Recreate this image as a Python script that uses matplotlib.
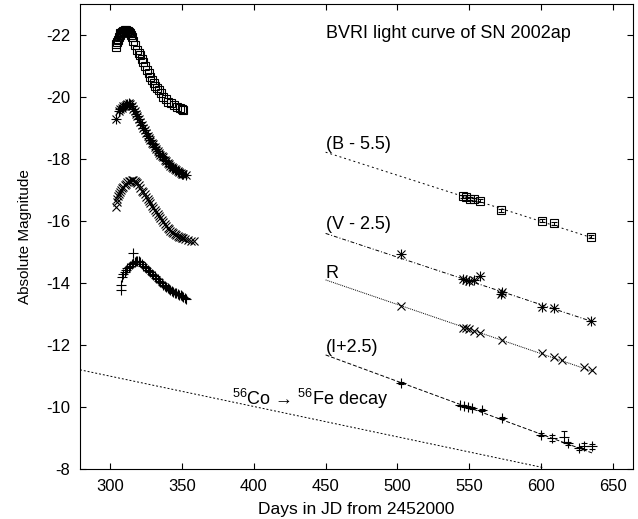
import numpy as np
import matplotlib
matplotlib.use("Agg")
import matplotlib.pyplot as plt

plt.rcParams['font.family'] = ['Liberation Sans', 'DejaVu Sans']
plt.rcParams['mathtext.fontset'] = 'custom'
plt.rcParams['mathtext.rm'] = 'Liberation Sans'
plt.rcParams['mathtext.it'] = 'Liberation Sans'
plt.rcParams['axes.unicode_minus'] = False

# early light curves (days from JD 2452000, absolute magnitude incl. offsets)
b_day = [304.2, 304.4, 304.8, 305.3, 306.0, 306.5, 307.0, 307.6, 308.2, 309.0, 309.7,
         310.4, 311.0, 311.7, 312.3, 313.0, 313.9, 314.5, 315.1, 316.0, 317.4, 318.6,
         319.8, 320.9, 322.0, 323.2, 324.3, 325.5, 326.7, 327.9, 329.0, 330.2, 331.5,
         332.5, 333.7, 335.4, 337.1, 338.8, 340.6, 342.3, 344.1, 346.4, 348.7, 350.0, 351.0]
b_mag = [-21.60, -21.70, -21.78, -21.85, -21.95, -22.00, -22.05, -22.08, -22.10, -22.12, -22.13,
         -22.15, -22.15, -22.14, -22.13, -22.10, -22.05, -22.00, -21.92, -21.80, -21.68, -21.52,
         -21.43, -21.35, -21.24, -21.14, -21.00, -20.87, -20.77, -20.66, -20.55, -20.44, -20.36,
         -20.30, -20.23, -20.12, -20.01, -19.93, -19.85, -19.80, -19.74, -19.68, -19.64, -19.60, -19.58]

v_day = [303.8, 306, 307, 308, 309, 310, 311, 312, 313, 314, 315, 316, 317, 318, 319, 320,
         321, 322, 323, 324, 325, 326, 327, 328, 329, 330, 331, 332, 333, 334, 335, 336,
         337, 338, 339, 340, 341, 342, 343, 344, 345, 346, 347, 348, 349, 350, 351, 353]
v_mag = [-19.30, -19.55, -19.60, -19.65, -19.70, -19.72, -19.75, -19.78, -19.80, -19.78, -19.72,
         -19.62, -19.55, -19.45, -19.38, -19.28, -19.18, -19.10, -19.00, -18.92, -18.83, -18.75,
         -18.68, -18.60, -18.53, -18.47, -18.40, -18.33, -18.27, -18.20, -18.14, -18.09, -18.05,
         -17.98, -17.93, -17.87, -17.83, -17.78, -17.74, -17.72, -17.67, -17.63, -17.60, -17.57,
         -17.55, -17.53, -17.52, -17.50]

r_day = [304.3, 304.6, 305.0, 305.5, 306.0, 306.7, 307.4, 308, 309, 310, 311, 312, 313, 314,
         315, 316, 317, 318, 319, 320, 321, 322, 323, 324, 325, 326, 327, 328, 329, 330, 331,
         332, 333, 334, 335, 336, 337, 338, 339, 340, 341, 342, 343, 344, 345, 346, 347, 348,
         349, 350, 351, 352, 354, 356, 358.5]
r_mag = [-16.45, -16.60, -16.70, -16.80, -16.88, -16.95, -17.00, -17.05, -17.10, -17.15, -17.20,
         -17.25, -17.28, -17.30, -17.32, -17.32, -17.30, -17.27, -17.22, -17.15, -17.05, -16.98,
         -16.92, -16.86, -16.79, -16.72, -16.64, -16.57, -16.50, -16.43, -16.36, -16.29, -16.22,
         -16.16, -16.10, -16.03, -15.96, -15.90, -15.84, -15.78, -15.73, -15.69, -15.64, -15.60,
         -15.57, -15.54, -15.51, -15.49, -15.47, -15.45, -15.44, -15.42, -15.39, -15.36, -15.34]

i_day = [307.3, 307.4, 308, 309, 310, 311, 312, 313, 314, 315, 315.8, 316, 317, 318, 319, 320,
         321, 322, 323, 324, 325, 326, 327, 328, 329, 330, 331, 332, 333, 334, 335, 336, 337,
         338, 339, 340, 341, 342, 343, 344, 345, 346, 347, 348, 349, 350, 351, 352, 353]
i_mag = [-13.77, -13.94, -14.20, -14.30, -14.37, -14.43, -14.48, -14.52, -14.56, -14.60, -14.96,
         -14.64, -14.68, -14.70, -14.71, -14.70, -14.68, -14.62, -14.56, -14.51, -14.47, -14.43,
         -14.39, -14.35, -14.30, -14.26, -14.21, -14.17, -14.12, -14.08, -14.03, -13.99, -13.94,
         -13.90, -13.87, -13.84, -13.81, -13.78, -13.75, -13.72, -13.69, -13.67, -13.64, -13.62,
         -13.60, -13.58, -13.56, -13.53, -13.50]

# nebular phase points
bl_day = [545.5, 547.5, 550.5, 553.5, 557.5, 572.0, 600.6, 608.7, 634.5]
bl_mag = [-16.80, -16.78, -16.72, -16.70, -16.66, -16.35, -16.01, -15.93, -15.49]
vl_day = [502.5, 545.5, 547.5, 550.0, 553.0, 557.7, 572.0, 572.8, 600.6, 608.7, 634.5]
vl_mag = [-14.95, -14.12, -14.10, -14.08, -14.10, -14.24, -13.65, -13.72, -13.22, -13.18, -12.78]
rl_day = [502.5, 545.5, 547.5, 550.0, 553.0, 557.7, 572.8, 600.6, 608.7, 614.5, 629.6, 635.4]
rl_mag = [-13.25, -12.55, -12.55, -12.52, -12.45, -12.40, -12.16, -11.73, -11.62, -11.52, -11.28, -11.19]
il_day = [502.4, 543.7, 546.0, 549.0, 551.9, 558.8, 572.8, 600.2, 607.6, 615.7, 618.5, 626.2, 629.7, 635.5]
il_mag = [-10.78, -10.05, -10.03, -10.01, -9.98, -9.90, -9.64, -9.10, -8.99, -9.04, -8.83, -8.67, -8.74, -8.74]
il_err = [0.03, 0.03, 0.03, 0.03, 0.03, 0.03, 0.04, 0.05, 0.10, 0.18, 0.05, 0.05, 0.10, 0.08]

# linear fits (start/end day, start/end mag)
fit_day = [450, 636]
fit_b = [-18.22, -15.45]
fit_v = [-15.60, -12.75]
fit_r = [-14.10, -11.15]
fit_i = [-11.68, -8.51]
co_day = [279, 601]
co_mag = [-11.20, -8.05]

fig = plt.figure(figsize=(6.38, 5.19), dpi=100)
ax = fig.add_axes([80 / 638, 1 - 469 / 519, 553 / 638, 465 / 519])

ms = 6
kw = dict(linestyle='none', color='black', mew=0.8)
ax.plot(b_day, b_mag, marker='s', mfc='none', ms=ms - 0.5, **kw)
ax.plot(v_day, v_mag, marker='+', ms=ms + 1, **kw)
ax.plot(v_day, v_mag, marker='x', ms=ms, **kw)
ax.plot(r_day, r_mag, marker='x', ms=ms, **kw)
ax.plot(i_day, i_mag, marker='+', ms=ms + 1, **kw)

ax.errorbar(bl_day, bl_mag, yerr=0.05, fmt='s', mfc='none', mec='black', ecolor='black',
            ms=ms, mew=0.8, elinewidth=0.7, capsize=2.5)
ax.plot(vl_day, vl_mag, marker='+', ms=ms + 1, **kw)
ax.plot(vl_day, vl_mag, marker='x', ms=ms, **kw)
ax.plot(rl_day, rl_mag, marker='x', ms=ms, **kw)
ax.errorbar(il_day, il_mag, yerr=il_err, fmt='+', color='black', ms=ms + 1, mew=0.8,
            elinewidth=0.7, capsize=2.5)

ax.plot(fit_day, fit_b, color='black', lw=0.7, dashes=(2, 3))
ax.plot(fit_day, fit_v, color='black', lw=0.7, dashes=(4, 2, 1, 2))
ax.plot(fit_day, fit_r, color='black', lw=0.7, dashes=(1, 1))
ax.plot(fit_day, fit_i, color='black', lw=0.7, dashes=(4, 2))
ax.plot(co_day, co_mag, color='black', lw=0.7, dashes=(2, 2))

ax.text(450, -21.9, 'BVRI light curve of SN 2002ap', fontsize=13)
ax.text(450, -18.31, '(B - 5.5)', fontsize=13)
ax.text(450, -15.73, '(V - 2.5)', fontsize=13)
ax.text(450, -14.16, 'R', fontsize=13)
ax.text(450, -11.78, '(I+2.5)', fontsize=13)
ax.text(493.6, -10.06, r'$^{56}$Co → $^{56}$Fe decay', fontsize=13, ha='right')

ax.set_xlim(279, 664)
ax.set_ylim(-8, -23)
ax.set_xticks(np.arange(300, 651, 50))
ax.set_yticks(np.arange(-22, -7, 2))
ax.tick_params(direction='in', length=4.5, top=True, right=True, labelsize=12, pad=7)
ax.set_xlabel('Days in JD from 2452000', fontsize=12.5, labelpad=6)
ax.set_ylabel('Absolute Magnitude', fontsize=11, labelpad=10)

fig.savefig('out.png', dpi=100)
